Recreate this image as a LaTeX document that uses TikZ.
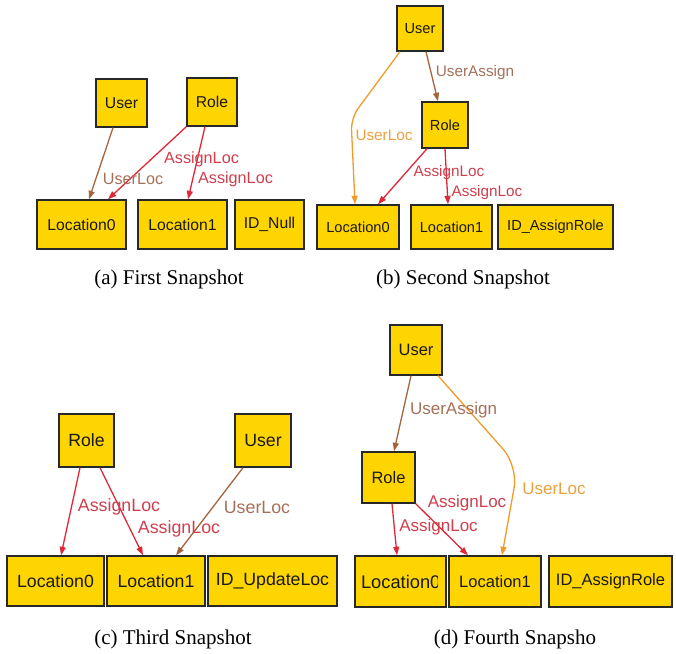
\documentclass[tikz,border=0pt]{standalone}
\usepackage{fontspec}
\setmainfont{Liberation Serif}
\newfontfamily\diag{Liberation Sans}
\usetikzlibrary{arrows.meta}
\definecolor{boxfill}{RGB}{255,213,0}
\definecolor{boxline}{RGB}{40,40,40}
\definecolor{boxtext}{RGB}{25,25,25}
\definecolor{redE}{RGB}{222,40,55}
\definecolor{redL}{RGB}{208,62,76}
\definecolor{brownE}{RGB}{165,100,60}
\definecolor{brownL}{RGB}{165,112,88}
\definecolor{orangeE}{RGB}{242,155,40}
\definecolor{orangeL}{RGB}{236,160,62}
\tikzset{
  ent/.style={draw=boxline,fill=boxfill,line width=1.4pt,inner sep=0pt,text=boxtext,font=\diag},
  conn/.style={line width=1.3pt,-{Triangle[length=8.5pt,width=6pt]}},
  rede/.style={conn,draw=redE},
  browne/.style={conn,draw=brownE},
  orangee/.style={conn,draw=orangeE},
  lbl/.style={inner sep=0pt,font=\diag},
  captxt/.style={inner sep=0pt,font=\fontsize{21}{24}\selectfont}
}
\begin{document}
\begin{tikzpicture}[x=1pt,y=-1pt]
\useasboundingbox (0,0) rectangle (676,653);
% ---------- (a)
\begin{scope}
\tikzset{fa/.style={font=\diag\fontsize{15.7}{18}\selectfont}}
\node[ent,fa,minimum width=51pt,minimum height=48pt] (aUser) at (121.5,103) {User};
\node[ent,fa,minimum width=50pt,minimum height=48pt] (aRole) at (212,102) {Role};
\node[ent,fa,minimum width=89pt,minimum height=49pt] (aL0) at (81.5,224.5) {Location0};
\node[ent,fa,minimum width=89pt,minimum height=49pt] (aL1) at (182.5,224.5) {Location1};
\node[ent,fa,minimum width=69pt,minimum height=49pt] (aID) at (269.5,224.5) {ID\_Null};
\draw[browne] ([xshift=-8.5pt]aUser.south) -- ([xshift=7.5pt]aL0.north);
\draw[rede] (aRole.south west) -- ([xshift=26.5pt]aL0.north);
\draw[rede] ([xshift=-7pt]aRole.south) -- ([xshift=5.5pt]aL1.north);
\node[lbl,text=brownL,font=\diag\fontsize{16.2}{18}\selectfont] (aLbl1) at (133,179) {UserLoc};
\node[lbl,text=redL,font=\diag\fontsize{16.2}{18}\selectfont] (aLbl2) at (201.5,159) {AssignLoc};
\node[lbl,text=redL,font=\diag\fontsize{16.2}{18}\selectfont] (aLbl3) at (235.5,179) {AssignLoc};
\end{scope}
% ---------- (b)
\begin{scope}
\tikzset{fb/.style={font=\diag\fontsize{14.6}{17}\selectfont}}
\node[ent,fb,minimum width=46pt,minimum height=45pt] (bUser) at (420,28.5) {User};
\node[ent,fb,minimum width=46pt,minimum height=46pt] (bRole) at (445,125) {Role};
\node[ent,fb,minimum width=82pt,minimum height=44pt] (bL0) at (358,227) {Location0};
\node[ent,fb,minimum width=81pt,minimum height=44pt] (bL1) at (451.5,227) {Location1};
\node[ent,fb,minimum width=115pt,minimum height=44pt] (bID) at (555.5,227) {ID\_AssignRole};
\coordinate (bBend) at (351,118);
\draw[orangee,rounded corners=12pt] ([xshift=-20pt]bUser.south) -- (bBend) -- ([xshift=-3pt]bL0.north);
\draw[browne] ([xshift=6pt]bUser.south) -- ([xshift=-7pt]bRole.north);
\draw[rede] ([xshift=-18pt]bRole.south) -- ([xshift=20pt]bL0.north);
\draw[rede] (bRole.south) -- ([xshift=-3.5pt]bL1.north);
\node[lbl,text=brownL,font=\diag\fontsize{15.3}{18}\selectfont] (bLbl1) at (475,73) {UserAssign};
\node[lbl,text=orangeL,font=\diag\fontsize{15.3}{18}\selectfont] (bLbl2) at (384,135) {UserLoc};
\node[lbl,text=redL,font=\diag\fontsize{15.3}{18}\selectfont] (bLbl3) at (449,173) {AssignLoc};
\node[lbl,text=redL,font=\diag\fontsize{15.3}{18}\selectfont] (bLbl4) at (487,193) {AssignLoc};
\end{scope}
% ---------- (c)
\begin{scope}
\tikzset{fc/.style={font=\diag\fontsize{17.7}{20}\selectfont}}
\node[ent,fc,minimum width=55pt,minimum height=53pt] (cRole) at (86.5,440.5) {Role};
\node[ent,fc,minimum width=56pt,minimum height=53pt] (cUser) at (263,440.5) {User};
\node[ent,fc,minimum width=97pt,minimum height=50pt] (cL0) at (55.5,581) {Location0};
\node[ent,fc,minimum width=98pt,minimum height=50pt] (cL1) at (156,581) {Location1};
\node[ent,fc,minimum width=129pt,minimum height=50pt] (cID) at (272.5,581) {ID\_UpdateLoc};
\draw[rede] ([xshift=-6.5pt]cRole.south) -- ([xshift=5.5pt]cL0.north);
\draw[rede] ([xshift=13.5pt]cRole.south) -- ([xshift=-13pt]cL1.north);
\draw[browne] ([xshift=-20pt]cUser.south) -- ([xshift=20pt]cL1.north);
\node[lbl,text=redL,font=\diag\fontsize{17.8}{20}\selectfont] (cLbl1) at (119,507) {AssignLoc};
\node[lbl,text=redL,font=\diag\fontsize{17.8}{20}\selectfont] (cLbl2) at (179,529) {AssignLoc};
\node[lbl,text=brownL,font=\diag\fontsize{17.8}{20}\selectfont] (cLbl3) at (257,507) {UserLoc};
\end{scope}
% ---------- (d)
\begin{scope}
\tikzset{fd/.style={font=\diag\fontsize{16.5}{19}\selectfont}}
\node[ent,fd,minimum width=52pt,minimum height=50pt] (dUser) at (416,350) {User};
\node[ent,fd,minimum width=53pt,minimum height=51pt] (dRole) at (388.5,477.5) {Role};
\node[ent,fd,minimum width=91pt,minimum height=51pt] (dL0) at (400.5,581.5) {};
\begin{scope}
\clip (dL0.south west) rectangle ([xshift=-9.5pt]dL0.north east);
\node[lbl,font=\diag\fontsize{18.3}{20}\selectfont,text=boxtext,anchor=west] (dL0t) at ([xshift=6.5pt]dL0.west) {Location0};
\end{scope}
\node[ent,fd,minimum width=92pt,minimum height=51pt] (dL1) at (495,581.5) {Location1};
\node[ent,fd,minimum width=123pt,minimum height=51pt] (dID) at (610.5,581.5) {ID\_AssignRole};
\coordinate (dBend) at (518,466);
\draw[browne] ([xshift=-5pt]dUser.south) -- ([xshift=5.5pt]dRole.north);
\draw[orangee,rounded corners=22pt] ([xshift=22pt]dUser.south) -- (dBend) -- ([xshift=7pt]dL1.north);
\draw[rede] ([xshift=3.5pt]dRole.south) -- ([xshift=-3.5pt]dL0.north);
\draw[rede] (dRole.south east) -- ([xshift=-27pt]dL1.north);
\node[lbl,text=brownL,font=\diag\fontsize{17}{20}\selectfont] (dLbl1) at (453.5,410) {UserAssign};
\node[lbl,text=orangeL,font=\diag\fontsize{17}{20}\selectfont] (dLbl2) at (554,489) {UserLoc};
\node[lbl,text=redL,font=\diag\fontsize{17}{20}\selectfont] (dLbl3) at (467,503) {AssignLoc};
\node[lbl,text=redL,font=\diag\fontsize{17}{20}\selectfont] (dLbl4) at (438.5,527) {AssignLoc};
\end{scope}
% ---------- captions
\node[captxt] (capA) at (169,279) {(a) First Snapshot};
\node[captxt] (capB) at (463,279) {(b) Second Snapshot};
\node[captxt] (capC) at (173,639) {(c) Third Snapshot};
\node[captxt] (capD) at (515,639) {(d) Fourth Snapsho};
\end{tikzpicture}
\end{document}
